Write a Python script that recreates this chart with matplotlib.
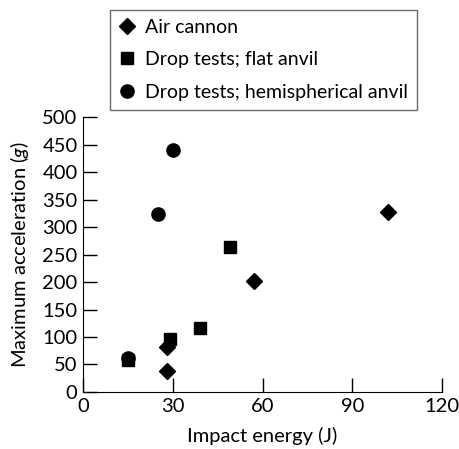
""" Peak acceleration vs impact energy scatter
"""
import matplotlib
matplotlib.use('Agg')
import matplotlib.pyplot as plt

plt.rcParams['font.family'] = ['Lato', 'DejaVu Sans']
plt.rcParams['mathtext.fontset'] = 'custom'
plt.rcParams['mathtext.it'] = 'Lato:italic'

# data
air_energy = [102, 57, 28, 28]
air_acc = [328, 202, 81, 39]
flat_energy = [49, 39, 29, 15]
flat_acc = [263, 116, 96, 58]
hemi_energy = [30, 25, 15]
hemi_acc = [440, 323, 61]

xticks = [0, 30, 60, 90, 120]
yticks = list(range(0, 501, 50))

# fig params
fsize = 14.5
fig = plt.figure(figsize=(4.59, 4.49), dpi=100)
ax = fig.add_axes([0.181, 0.127, 0.782, 0.612])

ax.plot(air_energy, air_acc, 'D', color='black', ms=8.5, label='Air cannon')
ax.plot(flat_energy, flat_acc, 's', color='black', ms=8.5, label='Drop tests; flat anvil')
ax.plot(hemi_energy, hemi_acc, 'o', color='black', ms=9.5,
        label='Drop tests; hemispherical anvil')

ax.set_xlim(0, 120)
ax.set_ylim(0, 500)
ax.set_xticks(xticks)
ax.set_yticks(yticks)
ax.tick_params(direction='in', length=10, width=1, labelsize=fsize, pad=4)
ax.spines['top'].set_visible(False)
ax.spines['right'].set_visible(False)
ax.set_xlabel('Impact energy (J)', fontsize=fsize, labelpad=9)
ax.set_ylabel(r'Maximum acceleration ($\mathit{g}$)', fontsize=fsize, labelpad=8)

leg = fig.legend(loc='upper left', bbox_to_anchor=(110 / 459, 1 - 10 / 449),
                 fontsize=14, frameon=True, fancybox=False, handlelength=0.8,
                 handletextpad=0.55, labelspacing=0.8, borderpad=0.45,
                 borderaxespad=0)
leg.get_frame().set_edgecolor('#444444')
leg.get_frame().set_linewidth(1)

fig.savefig('out.png', dpi=100)
